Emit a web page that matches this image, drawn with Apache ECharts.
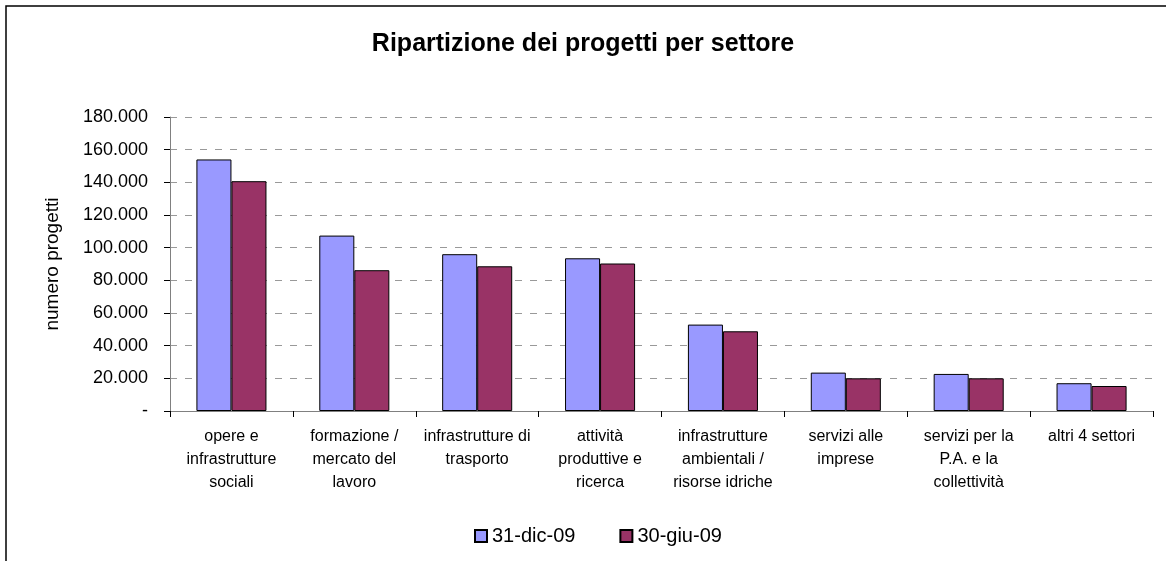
<!DOCTYPE html>
<html>
<head>
<meta charset="utf-8">
<title>Ripartizione dei progetti per settore</title>
<script src="https://cdn.jsdelivr.net/npm/echarts@6/dist/echarts.min.js"></script>
<style>
  html, body { margin: 0; padding: 0; background: #fff; }
  #chart { width: 1166px; height: 561px; }
</style>
</head>
<body>
<div id="chart"></div>
<script>
// categorie (settori)
const categories = [
  'opere e\ninfrastrutture\nsociali',
  'formazione /\nmercato del\nlavoro',
  'infrastrutture di\ntrasporto',
  'attività\nproduttive e\nricerca',
  'infrastrutture\nambientali /\nrisorse idriche',
  'servizi alle\nimprese',
  'servizi per la\nP.A. e la\ncollettività',
  'altri 4 settori'
];
// numero progetti al 31-dic-09
const dic09 = [154000, 107400, 96000, 93500, 52900, 23500, 22700, 17000];
// numero progetti al 30-giu-09
const giu09 = [140700, 86200, 88600, 90300, 48800, 20000, 20000, 15300];
const seriesNames = ['31-dic-09', '30-giu-09'];

const FONT = 'Liberation Sans, Arial, sans-serif';

const formatNum = v => {
  if (v === 0) return '-';
  return String(v).replace(/\B(?=(\d{3})+(?!\d))/g, '.');
};

const chart = echarts.init(document.getElementById('chart'));

const option = {
  backgroundColor: '#fff',
  animation: false,
  textStyle: { fontFamily: FONT, color: '#000' },
  graphic: [
    {
      // cornice del grafico (tagliata a destra e in basso)
      type: 'rect',
      shape: { x: 6, y: 6, width: 1200, height: 600 },
      style: { fill: 'none', stroke: '#000', lineWidth: 1.5 },
      silent: true
    }
  ],
  title: {
    text: 'Ripartizione dei progetti per settore',
    left: 'center',
    top: 27,
    textStyle: { fontFamily: FONT, fontSize: 25, fontWeight: 'bold', color: '#000' }
  },
  legend: {
    data: seriesNames,
    left: 469,
    top: 521,
    icon: 'rect',
    itemWidth: 12,
    itemHeight: 12,
    itemGap: 44,
    textStyle: { fontFamily: FONT, fontSize: 20, color: '#000' }
  },
  grid: { left: 170, right: 13, top: 117, bottom: 150 },
  xAxis: {
    type: 'category',
    data: categories,
    axisLine: { lineStyle: { color: '#808080', width: 1 } },
    axisTick: { show: true, length: 6, lineStyle: { color: '#000' } },
    axisLabel: {
      fontFamily: FONT,
      fontSize: 16,
      lineHeight: 23,
      color: '#000',
      margin: 14,
      interval: 0
    }
  },
  yAxis: {
    type: 'value',
    min: 0,
    max: 180000,
    interval: 20000,
    name: 'numero progetti',
    nameLocation: 'middle',
    nameGap: 108,
    nameTextStyle: { fontFamily: FONT, fontSize: 19, color: '#000' },
    axisLine: { show: true, lineStyle: { color: '#808080', width: 1 } },
    axisTick: { show: true, length: 6, lineStyle: { color: '#000' } },
    axisLabel: {
      fontFamily: FONT,
      fontSize: 18,
      color: '#000',
      margin: 22,
      formatter: formatNum
    },
    splitLine: {
      show: true,
      lineStyle: { color: '#999', type: [7, 8], width: 1 }
    }
  },
  series: [
    {
      name: seriesNames[0],
      type: 'bar',
      data: dic09,
      barGap: '0%',
      barCategoryGap: '43%',
      itemStyle: { color: '#9999FF', borderColor: '#000', borderWidth: 1 }
    },
    {
      name: seriesNames[1],
      type: 'bar',
      data: giu09,
      itemStyle: { color: '#993366', borderColor: '#000', borderWidth: 1 }
    }
  ]
};

chart.setOption(option);
</script>
</body>
</html>
